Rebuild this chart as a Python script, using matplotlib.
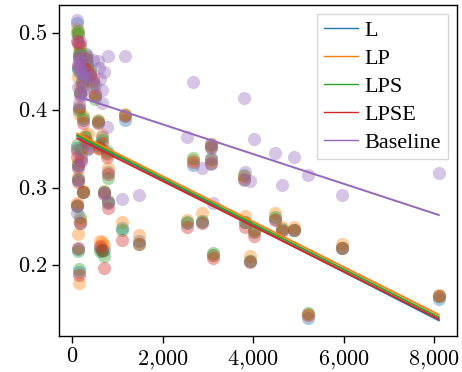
import numpy as np
import matplotlib
matplotlib.use("Agg")
import matplotlib.pyplot as plt
from matplotlib.ticker import FuncFormatter

plt.rcParams['mathtext.fontset'] = 'cm'
plt.rcParams['font.family'] = ['Liberation Serif', 'DejaVu Serif']

# shared x value for every observation
x = [110, 130, 150, 120, 160, 140, 240, 290, 110, 130, 120, 240, 110, 130, 150, 170,
     575, 660, 600, 770, 780, 700, 780, 660, 700, 620, 400, 460, 300, 200, 350,
     180, 330, 210, 500, 260,
     1100, 1170, 1480,
     2540, 2670, 2870, 3070, 3070, 3120, 3800, 3820, 3930, 4020, 4490, 4640, 4890,
     5220, 5970, 8100]

y_L = [0.512, 0.497, 0.470, 0.455, 0.422, 0.400, 0.388, 0.365, 0.352, 0.330, 0.310, 0.295,
       0.276, 0.221, 0.192, 0.255,
       0.385, 0.366, 0.353, 0.345, 0.320, 0.295, 0.280, 0.218, 0.220, 0.222, 0.445, 0.430,
       0.473, 0.340, 0.350,
       0.483, 0.458, 0.438, 0.418, 0.448,
       0.248, 0.388, 0.232,
       0.255, 0.330, 0.256, 0.352, 0.331, 0.214, 0.310, 0.256, 0.205, 0.243, 0.260, 0.246,
       0.246, 0.132, 0.223, 0.156]

y_LP = [0.505, 0.500, 0.481, 0.443, 0.430, 0.395, 0.392, 0.368, 0.347, 0.333, 0.314, 0.296,
        0.280, 0.240, 0.177, 0.258,
        0.388, 0.368, 0.350, 0.343, 0.326, 0.296, 0.282, 0.230, 0.226, 0.232, 0.450, 0.440,
        0.470, 0.345, 0.370,
        0.478, 0.455, 0.445, 0.422, 0.452,
        0.256, 0.395, 0.239,
        0.259, 0.336, 0.267, 0.356, 0.336, 0.214, 0.315, 0.264, 0.212, 0.244, 0.267, 0.250,
        0.250, 0.137, 0.228, 0.162]

y_LPS = [0.500, 0.502, 0.474, 0.452, 0.424, 0.402, 0.390, 0.366, 0.355, 0.330, 0.312, 0.295,
         0.277, 0.219, 0.195, 0.262,
         0.386, 0.362, 0.355, 0.347, 0.313, 0.294, 0.283, 0.220, 0.212, 0.218, 0.452, 0.435,
         0.468, 0.350, 0.358,
         0.474, 0.462, 0.436, 0.414, 0.446,
         0.246, 0.394, 0.228,
         0.256, 0.339, 0.257, 0.355, 0.337, 0.216, 0.316, 0.256, 0.206, 0.245, 0.263, 0.247,
         0.246, 0.138, 0.223, 0.160]

y_LPSE = [0.490, 0.487, 0.468, 0.458, 0.420, 0.404, 0.384, 0.360, 0.340, 0.325, 0.308, 0.294,
          0.278, 0.222, 0.188, 0.254,
          0.383, 0.358, 0.352, 0.340, 0.318, 0.292, 0.274, 0.220, 0.197, 0.225, 0.445, 0.438,
          0.466, 0.335, 0.352,
          0.488, 0.452, 0.431, 0.420, 0.455,
          0.233, 0.392, 0.228,
          0.250, 0.333, 0.255, 0.353, 0.332, 0.209, 0.312, 0.250, 0.204, 0.238, 0.259, 0.244,
          0.245, 0.136, 0.222, 0.160]

y_base = [0.517, 0.488, 0.465, 0.456, 0.448, 0.410, 0.426, 0.443, 0.349, 0.328, 0.310, 0.420,
          0.268, 0.430, 0.470, 0.455,
          0.463, 0.426, 0.455, 0.379, 0.470, 0.293, 0.282, 0.410, 0.450, 0.440, 0.443, 0.465,
          0.450, 0.336, 0.355,
          0.462, 0.470, 0.448, 0.432, 0.441,
          0.285, 0.470, 0.291,
          0.366, 0.437, 0.325, 0.357, 0.338, 0.281, 0.416, 0.320, 0.309, 0.363, 0.345, 0.303,
          0.340, 0.317, 0.291, 0.319]

labels = ['L', 'LP', 'LPS', 'LPSE', 'Baseline']
colors = ['#1f77b4', '#ff7f0e', '#2ca02c', '#d62728', '#9467bd']
series = [y_L, y_LP, y_LPS, y_LPSE, y_base]

fig = plt.figure(figsize=(4.62, 3.72), dpi=100)
ax = fig.add_axes([0.128, 0.097, 0.861, 0.890])

xs = np.array(x)
for ys, c in zip(series, colors):
    ax.scatter(xs, ys, s=90, color=c, alpha=0.38, linewidths=0)

# least squares line for each series
xline = np.array([xs.min(), xs.max()])
for ys, c, lab in zip(series, colors, labels):
    m, b = np.polyfit(xs, ys, 1)
    ax.plot(xline, m * xline + b, color=c, lw=1.4, label=lab)

ax.set_xlim(-290, 8500)
ax.set_ylim(0.109, 0.536)
ax.set_xticks([0, 2000, 4000, 6000, 8000])
ax.set_yticks([0.2, 0.3, 0.4, 0.5])
ax.xaxis.set_major_formatter(FuncFormatter(lambda v, p: '$' + f'{int(v):,}'.replace(',', '{,}') + '$'))
ax.yaxis.set_major_formatter(FuncFormatter(lambda v, p: f'${v:.1f}$'))
ax.tick_params(labelsize=16, direction='out', length=5, width=1)
for sp in ax.spines.values():
    sp.set_linewidth(1)

leg = ax.legend(loc='upper right', fontsize=16, fancybox=False, edgecolor='#cccccc',
                labelspacing=0.33, handlelength=1.55, handletextpad=0.3, borderpad=0.3,
                borderaxespad=0.4)
for l in leg.get_lines():
    l.set_linewidth(1.0)

fig.savefig('out.png', dpi=100)
